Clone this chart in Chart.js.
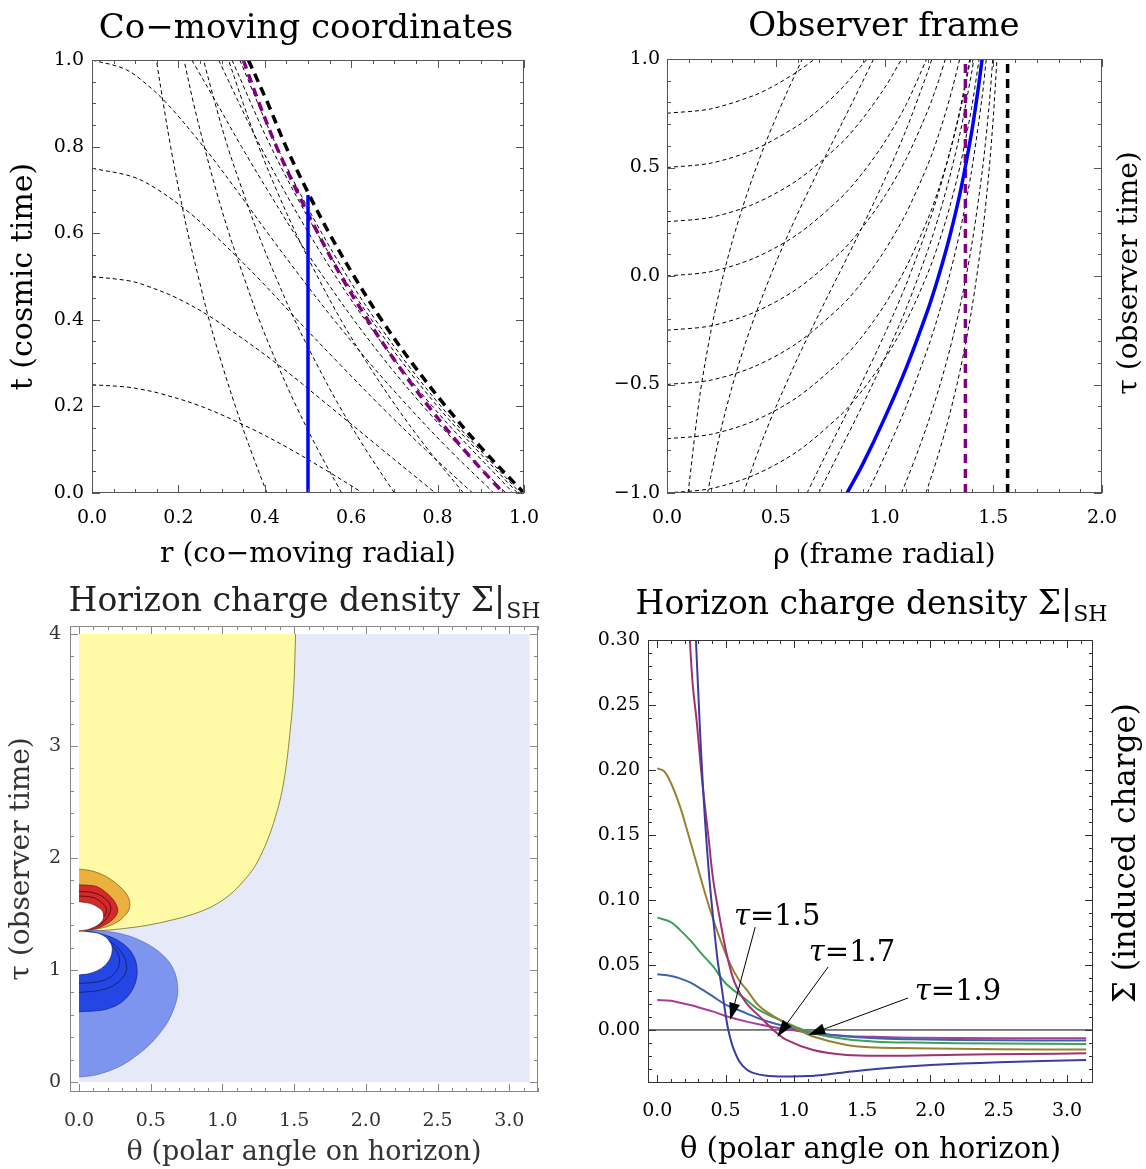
<!DOCTYPE html>
<html>
<head>
<meta charset="utf-8">
<title>Horizon charge density</title>
<script src="https://cdn.jsdelivr.net/npm/chart.js@4.4.1/dist/chart.umd.min.js"></script>
<style>
  body { margin: 0; background: #fff; }
  #wrap { position: relative; width: 1146px; height: 1169px; overflow: hidden; }
  canvas { position: absolute; }
</style>
</head>
<body>
<div id="wrap">
  <canvas id="c1" width="573" height="584" style="left:0;top:0"></canvas>
  <canvas id="c2" width="573" height="584" style="left:573px;top:0"></canvas>
  <canvas id="c3" width="573" height="585" style="left:0;top:584px"></canvas>
  <canvas id="c4" width="573" height="585" style="left:573px;top:584px"></canvas>
</div>
<script>
// ---- panel 1: co-moving coordinates, [r, t]
const p1XTicks = [0, 0.2, 0.4, 0.6, 0.8, 1.0];
const p1YTicks = [0, 0.2, 0.4, 0.6, 0.8, 1.0];
const p1Horizon = [[0.362,1],[0.407,0.9],[0.449,0.8],[0.497,0.7],[0.549,0.6],[0.607,0.5],[0.670,0.4],[0.741,0.3],[0.819,0.2],[0.905,0.1],[1,0]];
const p1Purple = [[0.350,1],[0.387,0.9],[0.427,0.8],[0.473,0.7],[0.523,0.6],[0.577,0.5],[0.638,0.4],[0.705,0.3],[0.779,0.2],[0.861,0.1],[0.952,0]];
const p1Blue = [[0.5,0],[0.5,0.688]];
// lines of constant observer time
const p1Tau = [
  [[0,0.25],[0.078,0.245],[0.111,0.24],[0.157,0.23],[0.253,0.2],[0.366,0.15],[0.461,0.1],[0.546,0.05],[0.627,0]],
  [[0,0.5],[0.086,0.49],[0.122,0.48],[0.197,0.45],[0.285,0.4],[0.426,0.3],[0.550,0.2],[0.672,0.1],[0.795,0]],
  [[0,0.75],[0.095,0.73],[0.153,0.7],[0.222,0.65],[0.279,0.6],[0.381,0.5],[0.475,0.4],[0.571,0.3],[0.669,0.2],[0.772,0.1],[0.881,0]],
  [[0,1],[0.074,0.98],[0.119,0.95],[0.173,0.9],[0.258,0.8],[0.334,0.7],[0.407,0.6],[0.482,0.5],[0.560,0.4],[0.643,0.3],[0.732,0.2],[0.827,0.1],[0.930,0]],
  [[0.231,1],[0.289,0.9],[0.346,0.8],[0.406,0.7],[0.468,0.6],[0.535,0.5],[0.606,0.4],[0.683,0.3],[0.767,0.2],[0.858,0.1],[0.958,0]],
  [[0.293,1],[0.390,0.8],[0.502,0.6],[0.632,0.4],[0.788,0.2],[0.975,0]],
  [[0.324,1],[0.414,0.8],[0.521,0.6],[0.647,0.4],[0.800,0.2],[0.985,0]],
  [[0.342,1],[0.428,0.8],[0.532,0.6],[0.656,0.4],[0.808,0.2],[0.991,0]]
];
// frame worldlines
const p1Frame = [
  [[0.405,0],[0.367,0.1],[0.332,0.2],[0.300,0.3],[0.271,0.4],[0.246,0.5],[0.222,0.6],[0.201,0.7],[0.182,0.8],[0.165,0.9],[0.149,1]],
  [[0.578,0],[0.523,0.1],[0.473,0.2],[0.428,0.3],[0.387,0.4],[0.351,0.5],[0.317,0.6],[0.287,0.7],[0.260,0.8],[0.235,0.9],[0.213,1]],
  [[0.700,0],[0.634,0.1],[0.573,0.2],[0.519,0.3],[0.469,0.4],[0.425,0.5],[0.384,0.6],[0.348,0.7],[0.314,0.8],[0.285,0.9],[0.258,1]],
  [[0.860,0],[0.778,0.1],[0.704,0.2],[0.637,0.3],[0.576,0.4],[0.522,0.5],[0.472,0.6],[0.427,0.7],[0.386,0.8],[0.350,0.9],[0.316,1]]
];

// ---- panel 2: observer frame, [rho, tau]
const p2XTicks = [0, 0.5, 1.0, 1.5, 2.0];
const p2YTicks = [-1, -0.5, 0, 0.5, 1];
const p2Horizon = [[1.566,-1],[1.566,1]];
const p2Purple = [[1.372,-1],[1.372,1]];
const p2Blue = [[0.828,-1],[0.9,-0.867],[1.0,-0.656],[1.1,-0.423],[1.2,-0.154],[1.25,0.003],[1.3,0.183],[1.35,0.395],[1.4,0.659],[1.43,0.857],[1.449,1.0]];
// slices of constant cosmic time
const p2Slices = [
  [[0,0.75],[0.2,0.770],[0.4,0.832],[0.5,0.881],[0.6,0.942],[0.68,1.0]],
  [[0,0.5],[0.2,0.52],[0.4,0.582],[0.6,0.692],[0.7,0.768],[0.8,0.861],[0.9,0.976],[0.92,1.0]],
  [[0,0.25],[0.2,0.27],[0.4,0.332],[0.6,0.442],[0.8,0.611],[0.9,0.726],[1.0,0.866],[1.079,1.0]],
  [[0,0],[0.2,0.02],[0.4,0.082],[0.6,0.192],[0.8,0.361],[0.9,0.476],[1.0,0.616],[1.1,0.791],[1.194,1.0]],
  [[0,-0.25],[0.2,-0.23],[0.4,-0.168],[0.6,-0.058],[0.8,0.111],[0.9,0.226],[1.0,0.366],[1.1,0.541],[1.2,0.765],[1.25,0.904],[1.28,1.0]],
  [[0,-0.5],[0.2,-0.48],[0.4,-0.418],[0.6,-0.308],[0.8,-0.139],[0.9,-0.025],[1.0,0.116],[1.1,0.291],[1.2,0.515],[1.25,0.654],[1.3,0.819],[1.346,1.0]],
  [[0,-0.75],[0.2,-0.73],[0.4,-0.668],[0.6,-0.558],[0.8,-0.389],[0.9,-0.275],[1.0,-0.134],[1.1,0.041],[1.2,0.265],[1.25,0.404],[1.3,0.569],[1.35,0.769],[1.396,1.0]],
  [[0,-1],[0.2,-0.98],[0.4,-0.918],[0.6,-0.808],[0.8,-0.639],[0.9,-0.525],[1.0,-0.384],[1.1,-0.209],[1.2,0.015],[1.25,0.154],[1.3,0.319],[1.35,0.519],[1.4,0.772],[1.435,1.0]]
];
// co-moving worldlines
const p2Worldlines = [
  [[0.097,-1],[0.15,-0.558],[0.2,-0.264],[0.25,-0.033],[0.3,0.159],[0.35,0.324],[0.4,0.471],[0.45,0.605],[0.5,0.727],[0.55,0.843],[0.6,0.952],[0.622,1.0]],
  [[0.187,-1],[0.2,-0.93],[0.25,-0.70],[0.3,-0.508],[0.35,-0.342],[0.4,-0.196],[0.5,0.06],[0.6,0.286],[0.7,0.494],[0.8,0.695],[0.9,0.897],[0.95,1.0]],
  [[0.352,-1],[0.4,-0.861],[0.45,-0.727],[0.5,-0.605],[0.6,-0.38],[0.7,-0.172],[0.8,0.029],[0.9,0.231],[1.0,0.443],[1.1,0.675],[1.2,0.945],[1.218,1.0]],
  [[0.644,-1],[0.7,-0.885],[0.8,-0.684],[0.9,-0.482],[1.0,-0.27],[1.1,-0.038],[1.2,0.232],[1.25,0.389],[1.3,0.569],[1.35,0.781],[1.392,1.0]],
  [[0.698,-1],[0.8,-0.795],[0.9,-0.593],[1.0,-0.381],[1.1,-0.149],[1.2,0.121],[1.25,0.278],[1.3,0.458],[1.35,0.67],[1.4,0.933],[1.411,1.0]],
  [[0.921,-1],[1.0,-0.832],[1.1,-0.60],[1.2,-0.33],[1.25,-0.173],[1.3,0.007],[1.35,0.219],[1.4,0.482],[1.45,0.834],[1.468,1.0]],
  [[1.078,-1],[1.1,-0.946],[1.15,-0.817],[1.2,-0.676],[1.25,-0.519],[1.3,-0.34],[1.35,-0.127],[1.4,0.136],[1.45,0.488],[1.48,0.775],[1.498,1.0]],
  [[1.19,-1],[1.2,-0.972],[1.25,-0.815],[1.3,-0.636],[1.35,-0.423],[1.4,-0.16],[1.45,0.192],[1.48,0.479],[1.5,0.729],[1.517,1.0]]
];

// ---- panel 3: contour regions, [theta, tau]
const p3XTicks = [0, 0.5, 1.0, 1.5, 2.0, 2.5, 3.0];
const p3YTicks = [0, 1, 2, 3, 4];
const p3Domain = [[0,0],[3.1416,0],[3.1416,4],[0,4]];
const p3Yellow = [[0,1.35],[0.15,1.352],[0.31,1.37],[0.48,1.4],[0.66,1.45],[0.8,1.5],[0.9,1.55],[1.02,1.64],[1.13,1.77],[1.25,1.98],[1.37,2.37],[1.43,2.7],[1.47,3.11],[1.5,3.6],[1.51,4],[0,4]];
const p3BlueOuter = [[0,0.045],[0.1,0.058],[0.2,0.095],[0.3,0.15],[0.4,0.235],[0.49,0.33],[0.56,0.43],[0.62,0.54],[0.66,0.65],[0.685,0.76],[0.688,0.85],[0.675,0.95],[0.645,1.04],[0.595,1.12],[0.53,1.19],[0.45,1.25],[0.36,1.3],[0.25,1.335],[0.12,1.355],[0,1.36]];
const p3BlueInner = [[0,0.628],[0.1,0.633],[0.19,0.65],[0.27,0.69],[0.33,0.75],[0.375,0.83],[0.4,0.92],[0.405,1.0],[0.395,1.08],[0.37,1.15],[0.33,1.21],[0.27,1.265],[0.2,1.305],[0.1,1.34],[0,1.355]];
const p3BlueLines = [
  [[0,0.8],[0.15,0.82],[0.25,0.87],[0.32,0.96],[0.33,1.05],[0.3,1.15],[0.22,1.25],[0.12,1.32],[0,1.355]],
  [[0,0.88],[0.15,0.9],[0.24,0.96],[0.28,1.05],[0.27,1.15],[0.2,1.25],[0.1,1.32],[0,1.355]]
];
const p3HoleLow = [[0,0.955],[0.077,0.97],[0.15,1.01],[0.195,1.06],[0.225,1.13],[0.23,1.208],[0.21,1.26],[0.183,1.297],[0.13,1.33],[0.077,1.34],[0,1.35]];
const p3Orange = [[0,1.35],[0.077,1.357],[0.195,1.387],[0.27,1.43],[0.312,1.476],[0.345,1.53],[0.354,1.595],[0.335,1.67],[0.289,1.74],[0.22,1.81],[0.148,1.86],[0.07,1.89],[0,1.9]];
const p3Red = [[0,1.35],[0.125,1.372],[0.19,1.41],[0.23,1.446],[0.26,1.49],[0.27,1.536],[0.26,1.58],[0.24,1.625],[0.19,1.69],[0.125,1.744],[0.06,1.757],[0,1.76]];
const p3RedLines = [
  [[0,1.355],[0.1,1.38],[0.17,1.43],[0.21,1.5],[0.22,1.57],[0.18,1.64],[0.1,1.69],[0,1.7]],
  [[0,1.355],[0.08,1.39],[0.14,1.43],[0.18,1.49],[0.19,1.55],[0.15,1.61],[0.09,1.65],[0,1.66]]
];
const p3HoleHigh = [[0,1.35],[0.06,1.36],[0.113,1.387],[0.15,1.42],[0.17,1.46],[0.17,1.5],[0.159,1.536],[0.12,1.57],[0.077,1.595],[0,1.61]];

// ---- panel 4: charge density against theta, one curve per observer time
const p4XTicks = [0, 0.5, 1.0, 1.5, 2.0, 2.5, 3.0];
const p4YTicks = [0, 0.05, 0.10, 0.15, 0.20, 0.25, 0.30];
const p4Tau15 = [[0.27,0.34],[0.283,0.30],[0.30,0.26],[0.32,0.215],[0.349,0.162],[0.38,0.118],[0.41,0.085],[0.44,0.055],[0.471,0.033],[0.50,0.012],[0.52,0],[0.55,-0.012],[0.60,-0.024],[0.65,-0.030],[0.70,-0.033],[0.80,-0.0352],[0.95,-0.0358],[1.1,-0.0355],[1.3,-0.0335],[1.6,-0.030],[2.0,-0.027],[2.5,-0.0248],[3.14,-0.0232]];
const p4Tau17 = [[0.23,0.33],[0.239,0.30],[0.26,0.265],[0.288,0.238],[0.33,0.19],[0.373,0.15],[0.41,0.115],[0.459,0.085],[0.507,0.059],[0.568,0.036],[0.654,0.0205],[0.776,0.0077],[0.849,0],[0.946,-0.0077],[1.141,-0.0154],[1.385,-0.0192],[1.7,-0.0198],[2.2,-0.019],[2.7,-0.0185],[3.14,-0.018]];
const p4Tau19 = [[0,0.2013],[0.05,0.199],[0.1,0.19],[0.166,0.172],[0.22,0.153],[0.288,0.128],[0.35,0.105],[0.41,0.085],[0.47,0.067],[0.532,0.051],[0.6,0.038],[0.654,0.031],[0.75,0.018],[0.898,0.0077],[1.0,0.002],[1.141,-0.005],[1.385,-0.0115],[1.6,-0.0135],[1.873,-0.014],[2.5,-0.0148],[3.14,-0.015]];
const p4Tau21 = [[0,0.0864],[0.1,0.083],[0.166,0.077],[0.25,0.068],[0.33,0.058],[0.41,0.0487],[0.5,0.036],[0.654,0.023],[0.75,0.015],[0.898,0.0077],[1.0,0.003],[1.141,-0.0026],[1.385,-0.0072],[1.6,-0.009],[1.873,-0.0097],[2.5,-0.0105],[3.14,-0.0108]];
const p4Tau23 = [[0,0.0428],[0.1,0.0415],[0.166,0.0397],[0.25,0.036],[0.33,0.031],[0.41,0.0256],[0.5,0.0195],[0.654,0.0128],[0.75,0.0085],[0.898,0.0038],[1.0,0.001],[1.141,-0.002],[1.385,-0.0051],[1.6,-0.0063],[1.873,-0.0072],[2.5,-0.0079],[3.14,-0.0082]];
const p4Tau25 = [[0,0.0231],[0.1,0.0225],[0.166,0.021],[0.25,0.019],[0.33,0.0165],[0.41,0.0141],[0.5,0.0108],[0.654,0.0064],[0.75,0.0042],[0.898,0.0013],[1.0,-0.0003],[1.141,-0.0026],[1.385,-0.0046],[1.6,-0.0053],[1.873,-0.0059],[2.5,-0.0063],[3.14,-0.0064]];
const p4Zero = [[-0.1,0],[3.3,0]];

Chart.defaults.font.family = "'DejaVu Serif', serif";
Chart.defaults.color = '#000';

const pts = a => a.map(([x, y]) => ({ x, y }));
function line(data, color, width, dash, extra) {
  return Object.assign({ data: pts(data), borderColor: color, borderWidth: width, borderDash: dash || [],
    pointRadius: 0, tension: 0.35, fill: false }, extra || {});
}
function patch(data, color, border, extra) {
  return Object.assign({ data: pts(data), backgroundColor: color, borderColor: border || 'rgba(0,0,0,0)', borderWidth: border ? 0.8 : 0,
    pointRadius: 0, tension: 0.35, fill: 'shape' }, extra || {});
}
const fmt1 = v => (v < 0 ? '\u2212' : '') + Math.abs(v).toFixed(1);

// frame, inward ticks, titles and notes
const deco = {
  id: 'deco',
  afterDatasetsDraw(chart, args, o) {
    const ctx = chart.ctx, a = chart.chartArea;
    const xs = chart.scales.x, ys = chart.scales.y;
    ctx.save();
    ctx.strokeStyle = o.frame;
    ctx.lineWidth = 1;
    ctx.strokeRect(a.left + 0.5, a.top + 0.5, a.width - 1, a.height - 1);
    const marks = (sc, minor, major, horiz) => {
      for (let k = Math.ceil(sc.min / minor - 1e-6); k * minor <= sc.max + 1e-9; k++) {
        const v = k * minor;
        const L = Math.abs(v / major - Math.round(v / major)) < 1e-6 ? 8 : 4;
        const p = Math.round(sc.getPixelForValue(v)) + 0.5;
        ctx.beginPath();
        if (horiz) {
          ctx.moveTo(p, a.bottom); ctx.lineTo(p, a.bottom - L);
          ctx.moveTo(p, a.top); ctx.lineTo(p, a.top + L);
        } else {
          ctx.moveTo(a.left, p); ctx.lineTo(a.left + L, p);
          ctx.moveTo(a.right, p); ctx.lineTo(a.right - L, p);
        }
        ctx.stroke();
      }
    };
    marks(xs, o.xMinor, o.xMajor, true);
    marks(ys, o.yMinor, o.yMajor, false);

    ctx.fillStyle = o.textColor || '#000';
    ctx.textBaseline = 'middle';
    if (o.title) {
      const t = o.title;
      const big = t.size + "px 'DejaVu Serif'", small = Math.round(t.size * 0.66) + "px 'DejaVu Serif'";
      ctx.font = big;
      const w1 = ctx.measureText(t.text).width;
      let w2 = 0;
      if (t.sub) { ctx.font = small; w2 = ctx.measureText(t.sub).width; }
      const x0 = t.x - (w1 + w2) / 2;
      ctx.textAlign = 'left';
      ctx.font = big;
      ctx.fillText(t.text, x0, t.y);
      if (t.sub) {
        ctx.font = small;
        ctx.fillText(t.sub, x0 + w1 + 1, t.y + t.size * 0.3);
      }
    }
    if (o.side) {
      ctx.save();
      ctx.translate(o.side.x, o.side.y);
      ctx.rotate(-Math.PI / 2);
      ctx.textAlign = 'center';
      ctx.font = o.side.size + "px 'DejaVu Serif'";
      ctx.fillText(o.side.text, 0, 0);
      ctx.restore();
    }
    (o.notes || []).forEach(n => {
      const tx = xs.getPixelForValue(n.at[0]), ty = ys.getPixelForValue(n.at[1]);
      ctx.font = "italic 29px 'DejaVu Serif'";
      const wt = ctx.measureText('\u03c4').width;
      ctx.font = "29px 'DejaVu Serif'";
      const rest = '=' + n.label;
      const wr = ctx.measureText(rest).width;
      const x0 = tx - (wt + wr) / 2;
      ctx.textAlign = 'left';
      ctx.font = "italic 29px 'DejaVu Serif'";
      ctx.fillText('\u03c4', x0, ty);
      ctx.font = "29px 'DejaVu Serif'";
      ctx.fillText(rest, x0 + wt, ty);
      const x1 = xs.getPixelForValue(n.from[0]), y1 = ys.getPixelForValue(n.from[1]);
      const x2 = xs.getPixelForValue(n.to[0]), y2 = ys.getPixelForValue(n.to[1]);
      const ang = Math.atan2(y2 - y1, x2 - x1);
      ctx.strokeStyle = '#000';
      ctx.lineWidth = 1;
      ctx.beginPath(); ctx.moveTo(x1, y1); ctx.lineTo(x2 - 12 * Math.cos(ang), y2 - 12 * Math.sin(ang)); ctx.stroke();
      ctx.beginPath();
      ctx.moveTo(x2, y2);
      ctx.lineTo(x2 - 17 * Math.cos(ang) + 5.5 * Math.sin(ang), y2 - 17 * Math.sin(ang) - 5.5 * Math.cos(ang));
      ctx.lineTo(x2 - 17 * Math.cos(ang) - 5.5 * Math.sin(ang), y2 - 17 * Math.sin(ang) + 5.5 * Math.cos(ang));
      ctx.closePath();
      ctx.fillStyle = '#000';
      ctx.fill();
    });
    ctx.restore();
  }
};

// datasets are listed bottom to top; Chart.js paints the first one last, so reverse them
function makeChart(id, o) {
  const tickColor = o.tickColor || '#000';
  return new Chart(document.getElementById(id), {
    type: 'line',
    data: { datasets: o.datasets.slice().reverse() },
    options: {
      responsive: false,
      animation: false,
      devicePixelRatio: 1,
      layout: { padding: { left: 0, top: o.top, right: o.right, bottom: 0 } },
      plugins: { legend: { display: false }, tooltip: { enabled: false }, deco: o.deco },
      scales: {
        x: {
          type: 'linear', min: o.x.min, max: o.x.max,
          afterBuildTicks: s => { s.ticks = o.x.ticks.map(v => ({ value: v })); },
          afterFit: s => { s.height = o.x.size; },
          grid: { display: false, drawTicks: false }, border: { display: false },
          ticks: { padding: o.x.pad, font: { size: 19 }, color: tickColor, callback: o.x.fmt, maxRotation: 0, autoSkip: false },
          title: { display: true, text: o.x.title, font: { size: o.x.tsize }, color: tickColor, padding: { top: 0, bottom: o.x.tpad } }
        },
        y: {
          type: 'linear', min: o.y.min, max: o.y.max,
          afterBuildTicks: s => { s.ticks = o.y.ticks.map(v => ({ value: v })); },
          afterFit: s => { s.width = o.y.size; },
          grid: { display: false, drawTicks: false }, border: { display: false },
          ticks: { padding: o.y.pad, font: { size: 19 }, color: tickColor, callback: o.y.fmt, autoSkip: false },
          title: { display: !!o.y.title, text: o.y.title || '', font: { size: o.y.tsize || 26 }, color: tickColor, padding: { top: o.y.tpad || 0, bottom: 0 } }
        }
      }
    },
    plugins: [deco]
  });
}

// panel 1
const thin = [4, 3], thick = [9, 6];
makeChart('c1', {
  top: 60, right: 49,
  x: { min: 0, max: 1, ticks: p1XTicks, fmt: fmt1, size: 91, pad: 14, title: 'r (co\u2212moving radial)', tsize: 28, tpad: 12 },
  y: { min: 0, max: 1, ticks: p1YTicks, fmt: fmt1, size: 92, pad: 8, title: 't (cosmic time)', tsize: 30, tpad: 6 },
  datasets: [
    ...p1Tau.map(d => line(d, '#000', 1, thin)),
    ...p1Frame.map(d => line(d, '#000', 1, thin)),
    line(p1Purple, '#800080', 3.5, thick),
    line(p1Horizon, '#000', 3.5, thick),
    line(p1Blue, '#0000ff', 3.5, [], { tension: 0 })
  ],
  deco: { frame: '#555', xMinor: 0.05, xMajor: 0.2, yMinor: 0.05, yMajor: 0.2,
    title: { text: 'Co\u2212moving coordinates', x: 306, y: 29, size: 34 } }
});

// panel 2
makeChart('c2', {
  top: 59, right: 44,
  x: { min: 0, max: 2, ticks: p2XTicks, fmt: fmt1, size: 91, pad: 14, title: '\u03c1 (frame radial)', tsize: 28, tpad: 11 },
  y: { min: -1, max: 1, ticks: p2YTicks, fmt: fmt1, size: 94, pad: 7 },
  datasets: [
    ...p2Slices.map(d => line(d, '#000', 1, thin, { tension: 0.3 })),
    ...p2Worldlines.map(d => line(d, '#000', 1, thin, { tension: 0.3 })),
    line(p2Purple, '#800080', 3.5, thick, { tension: 0 }),
    line(p2Horizon, '#000', 3.5, thick, { tension: 0 }),
    line(p2Blue, '#0000ff', 3.5, [], { tension: 0.3 })
  ],
  deco: { frame: '#555', xMinor: 0.1, xMajor: 0.5, yMinor: 0.1, yMajor: 0.5,
    title: { text: 'Observer frame', x: 311, y: 27, size: 34 },
    side: { text: '\u03c4 (observer time)', x: 557, y: 273, size: 28 } }
});

// panel 3
makeChart('c3', {
  top: 42, right: 35, tickColor: '#333',
  x: { min: -0.063, max: 3.2, ticks: p3XTicks, fmt: v => v.toFixed(1), size: 77, pad: 18, title: '\u03b8 (polar angle on horizon)', tsize: 27, tpad: 0 },
  y: { min: -0.089, max: 4.071, ticks: p3YTicks, fmt: v => v.toFixed(0), size: 70, pad: 9, title: '\u03c4 (observer time)', tsize: 28, tpad: 5 },
  datasets: [
    patch(p3Domain, '#e6eaf8', null, { tension: 0 }),
    patch(p3Yellow, '#fffaa6', null, { cubicInterpolationMode: 'monotone' }),
    line(p3Yellow.slice(0, -1), '#8a8a40', 1, [], { cubicInterpolationMode: 'monotone' }),
    patch(p3BlueOuter, '#7d95ee', 'rgba(70,80,150,0.6)'),
    patch(p3BlueInner, '#2446e4', 'rgba(20,30,110,0.8)'),
    ...p3BlueLines.map(d => line(d, 'rgba(20,25,90,0.8)', 1, [], { tension: 0.4 })),
    patch(p3HoleLow, '#ffffff', 'rgba(20,30,110,0.8)'),
    patch(p3Orange, '#ebb13f', 'rgba(110,70,20,0.8)'),
    patch(p3Red, '#d42a2a', 'rgba(90,10,10,0.8)'),
    ...p3RedLines.map(d => line(d, 'rgba(80,0,0,0.8)', 1, [], { tension: 0.4 })),
    patch(p3HoleHigh, '#ffffff', 'rgba(90,10,10,0.8)')
  ],
  deco: { frame: '#888', textColor: '#222', xMinor: 0.1, xMajor: 0.5, yMinor: 0.2, yMajor: 1,
    title: { text: 'Horizon charge density \u03a3|', sub: 'SH', x: 304, y: 18, size: 33 } }
});

// panel 4
makeChart('c4', {
  top: 56, right: 53,
  x: { min: -0.068, max: 3.19, ticks: p4XTicks, fmt: v => v.toFixed(1), size: 86, pad: 17, title: '\u03b8 (polar angle on horizon)', tsize: 29, tpad: 1 },
  y: { min: -0.0408, max: 0.30, ticks: p4YTicks, fmt: v => v.toFixed(2), size: 75, pad: 8 },
  datasets: [
    line(p4Zero, '#000', 1, [], { tension: 0 }),
    line(p4Tau25, '#aa3ca0', 2),
    line(p4Tau23, '#3c64aa', 2),
    line(p4Tau21, '#3ca05a', 2),
    line(p4Tau19, '#968232', 2),
    line(p4Tau17, '#a0326e', 2),
    line(p4Tau15, '#3c3ca0', 2)
  ],
  deco: { frame: '#333', xMinor: 0.1, xMajor: 0.5, yMinor: 0.01, yMajor: 0.05,
    title: { text: 'Horizon charge density \u03a3|', sub: 'SH', x: 298, y: 21, size: 33 },
    side: { text: '\u03a3 (induced charge)', x: 554, y: 269, size: 31 },
    notes: [
      { label: '1.5', at: [0.878, 0.0869], from: [0.717, 0.0792], to: [0.534, 0.0077] },
      { label: '1.7', at: [1.426, 0.0592], from: [1.251, 0.0485], to: [0.878, -0.0054] },
      { label: '1.9', at: [2.202, 0.0285], from: [1.836, 0.0246], to: [1.105, -0.0038] }
    ] }
});
</script>
</body>
</html>
